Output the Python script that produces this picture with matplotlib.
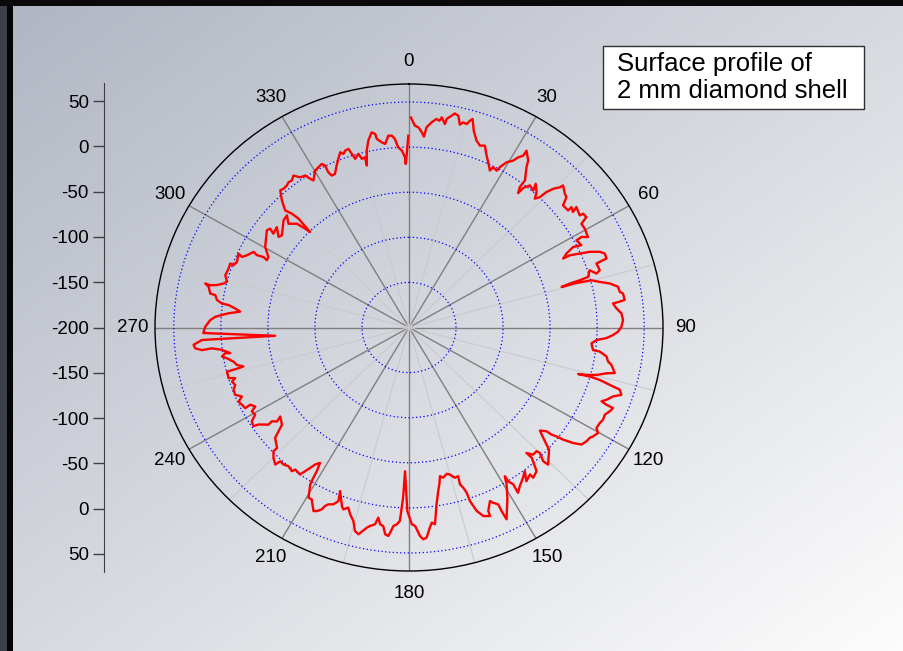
import numpy as np
import matplotlib
matplotlib.use("Agg")
import matplotlib.pyplot as plt
from matplotlib.patches import Rectangle

plt.rcParams['font.family'] = ['Liberation Sans', 'DejaVu Sans']

# surface profile: angle (deg, clockwise from top) and radius value
angle_deg = [
    0.5, 1.6, 2.6, 3.6, 4.3, 4.8, 6.0, 7.2, 8.0, 8.5, 9.6, 9.8, 10.9, 11.6, 12.6, 13.5, 14.2, 15.2, 15.8, 16.3,
    17.5, 19.1, 20.5, 21.8, 23.4, 24.7, 26.3, 26.7, 28.2, 28.5, 29.5, 30.9, 31.6, 32.5, 32.5, 34.4, 35.1, 37.1,
    37.1, 37.9, 38.1, 39.2, 41.0, 40.2, 42.1, 43.1, 43.9, 44.2, 44.9, 45.9, 46.1, 48.2, 49.2, 50.4, 52.5, 52.3,
    53.7, 53.1, 55.6, 55.7, 57.0, 57.9, 59.6, 62.2, 61.3, 61.5, 63.5, 62.9, 63.9, 65.0, 64.9, 65.7, 66.4, 67.5,
    68.5, 70.0, 70.1, 70.4, 72.6, 73.3, 71.7, 73.6, 73.9, 74.1, 74.5, 74.5, 74.9, 76.0, 77.1, 78.5, 80.0, 80.6,
    82.4, 82.7, 83.0, 84.5, 86.0, 87.9, 89.8, 91.2, 92.2, 93.2, 94.0, 95.2, 97.3, 97.5, 98.7, 100.1, 100.9,
    103.0, 103.6, 104.8, 105.6, 106.0, 105.8, 106.0, 106.6, 107.1, 108.3, 109.4, 110.9, 111.8, 112.2, 112.4,
    113.5, 114.9, 116.4, 117.6, 119.2, 120.2, 121.7, 122.5, 123.8, 125.3, 126.3, 127.2, 127.6, 128.1, 128.2,
    129.4, 130.6, 131.6, 132.3, 135.8, 136.1, 135.0, 135.3, 136.9, 138.1, 137.9, 139.6, 141.6, 141.7, 143.8,
    142.3, 144.0, 146.2, 147.7, 147.5, 148.3, 148.3, 149.2, 151.0, 154.0, 154.2, 154.2, 155.3, 155.9, 157.5,
    157.6, 159.3, 160.5, 161.4, 161.5, 162.0, 162.7, 162.4, 163.7, 165.1, 166.1, 167.7, 168.7, 169.5, 170.3,
    171.5, 172.8, 173.6, 174.3, 175.4, 176.3, 177.1, 178.3, 179.2, 180.5, 181.5, 181.9, 182.6, 183.4, 184.3,
    185.4, 186.3, 187.1, 188.0, 188.8, 189.4, 190.7, 191.4, 193.2, 194.3, 195.4, 196.8, 197.9, 199.1, 199.8,
    202.0, 201.3, 202.3, 203.6, 204.3, 204.7, 205.7, 206.5, 208.5, 209.5, 211.1, 211.4, 211.6, 212.2, 213.3,
    214.0, 214.7, 215.4, 217.5, 218.0, 219.8, 221.3, 222.7, 223.1, 224.9, 226.4, 226.4, 229.3, 230.3, 231.4,
    234.2, 233.4, 234.5, 234.2, 235.2, 236.1, 236.5, 238.1, 239.4, 240.9, 241.8, 243.1, 242.8, 244.3, 245.6,
    246.7, 248.0, 249.7, 251.0, 252.3, 253.1, 253.7, 255.8, 256.0, 256.2, 257.2, 258.5, 260.0, 260.8, 261.7,
    261.5, 262.9, 263.7, 263.5, 264.2, 265.2, 266.4, 266.3, 268.4, 270.2, 272.2, 273.3, 274.0, 274.7, 275.6,
    276.5, 277.4, 277.6, 278.5, 279.9, 280.1, 282.0, 282.7, 282.5, 283.0, 283.9, 284.7, 286.5, 288.8, 290.5,
    290.3, 291.7, 294.3, 293.8, 294.9, 296.9, 296.4, 296.8, 296.3, 297.6, 300.3, 305.5, 306.6, 305.8, 308.4,
    305.9, 307.1, 311.7, 313.8, 311.9, 314.0, 314.8, 315.2, 315.8, 315.4, 314.6, 316.2, 318.0, 319.1, 320.5,
    321.5, 322.6, 323.9, 325.2, 326.8, 327.5, 328.1, 330.2, 331.5, 332.9, 333.6, 333.5, 334.0, 335.2, 336.8,
    338.1, 339.4, 340.1, 340.9, 342.0, 342.5, 343.0, 344.4, 345.0, 346.1, 346.0, 347.1, 348.2, 349.6, 350.5,
    350.7, 352.0, 352.9, 354.1, 355.1, 355.9, 356.7, 357.8, 358.7, 358.9, 359.3, 359.8,
]
profile = [
    32.9, 23.9, 22.1, 16.8, 12.2, 22.7, 28.7, 33.1, 31.5, 35.5, 28.8, 34.6, 39.1, 42.3, 40.6, 31.3, 34.6, 33.8, 38.3, 40.9,
    28.9, 19.3, 15.3, 17.2, 7.7, 1.6, -5.9, -1.0, -2.7, 2.3, 10.5, 15.7, 21.5, 25.9, 32.5, 24.3, 17.2, 4.3,
    -4.8, -11.2, -3.3, 3.3, 1.2, 8.7, 2.3, -4.3, 0.6, 9.5, 17.1, 23.4, 27.2, 22.3, 21.1, 12.5, 13.2, 18.3,
    16.3, 22.5, 20.0, 24.0, 24.8, 16.4, 16.6, 15.1, 9.0, 2.6, 4.7, -4.1, -13.6, -19.2, -11.3, -0.8, 9.6, 19.4,
    23.7, 23.4, 19.4, 11.5, 12.5, 8.1, 2.3, -1.6, -11.1, -22.3, -31.7, -15.2, 0.9, 9.0, 18.9, 26.7, 27.5, 30.6,
    31.3, 25.8, 18.5, 21.5, 26.3, 27.7, 25.8, 22.2, 17.1, 10.2, -0.2, -5.3, -2.8, 4.5, 12.4, 14.9, 19.1,
    24.5, 15.9, 6.1, -4.2, -13.0, -0.3, 10.9, 22.6, 34.4, 37.8, 30.0, 24.7, 20.4, 26.7, 34.6,
    32.8, 29.5, 30.2, 28.8, 28.3, 32.5, 29.8, 27.8, 26.9, 24.6, 16.3, 5.6, -2.1, -7.5, -13.9,
    -19.9, -12.1, -4.5, 1.3, 12.1, 5.7, -3.4, -7.1, -6.9, -13.1, -5.4, 9.2, 12.6, 7.6, 11.3,
    1.3, 6.1, 11.7, 16.8, 6.2, 0.4, -6.2, 2.6, 15.7, 36.6, 26.0, 17.8, 13.9, 10.8, 20.2,
    26.1, 23.5, 15.8, 3.1, -6.8, -13.2, -17.8, -27.0, -26.4, -31.3, -32.9, -29.5, -31.9, -23.0, -15.9,
    -1.7, 19.9, 17.7, 23.0, 33.7, 35.3, 31.5, 20.2, 18.2, 3.5, -40.6, -11.2, 14.8, 18.6, 20.7,
    32.2, 30.7, 21.8, 20.4, 13.3, 21.2, 24.0, 26.4, 35.5, 32.8, 22.6, 16.4, 9.9, 13.4, 10.5,
    -4.4, 6.6, 11.9, 14.0, 17.2, 22.0, 25.9, 27.5, 16.8, 16.9, 3.3, -4.9, -13.0, -22.6, -18.2,
    -12.2, -6.2, -0.1, -1.4, 2.2, 0.2, 2.2, 1.8, 8.1, 4.1, -1.0, -6.3, -12.3, -19.8, -27.2,
    -31.3, -25.2, -20.9, -15.8, -11.5, -7.1, -1.7, -3.2, -10.0, -8.8, -14.6, -10.7, -4.3, -2.8, -1.1,
    -6.6, -0.8, -1.1, -4.7, -2.5, -7.0, -0.2, -0.4, -13.3, -18.8, -12.5, -9.7, -3.5, 1.4, -2.6,
    -7.9, 0.4, 10.7, 21.5, 28.4, 29.8, 20.5, -57.4, 18.8, 16.6, 11.5, 6.2, -0.7, -7.6, -19.7,
    -14.1, -6.6, 0.6, 6.4, 9.0, 14.6, 17.8, 22.0, 16.5, 9.4, 3.1, 0.0, 3.7, 2.6, 2.8,
    -1.1, -3.2, -1.1, -5.9, -10.0, -14.7, -19.5, -26.7, -31.5, -31.4, -22.9, -14.4, -16.2, -22.2, -20.8,
    -28.8, -30.6, -21.4, -20.3, -27.8, -34.3, -44.4, -50.8, -31.6, -22.7, -15.2, -4.8, 4.5, 3.6, 4.1,
    5.8, 5.1, 8.5, 2.8, 1.4, -4.5, -7.9, 0.6, 2.1, 3.7, 0.5, -7.7, -12.6, -12.4, -4.7,
    1.5, 7.6, 4.7, 7.5, 8.2, 1.9, -4.4, -0.1, -6.4, -5.6, -14.9, 1.2, 11.7, 20.0, 17.6,
    11.9, 7.3, 5.1, 13.8, 13.5, 9.6, 0.1, -3.7, -11.2, -18.6, -7.5, 12.7,
]

r_min, r_max = -200, 70
ring_values = [-150, -100, -50, 0, 50]
angle_major = list(range(0, 360, 30))
angle_minor = list(range(15, 360, 30))

# left scale: distance from the centre, labelled with the radius value
scale_pos = [-250, -200, -150, -100, -50, 0, 50, 100, 150, 200, 250]
scale_labels = ["50", "0", "-50", "-100", "-150", "-200", "-150", "-100", "-50", "0", "50"]

note = "Surface profile of\n2 mm diamond shell"

W, H = 904, 651
fig = plt.figure(figsize=(W / 100, H / 100), dpi=100)

# background gradient and frame
bg = fig.add_axes([0, 0, 1, 1], zorder=-10)
xs = np.linspace(0, 1, 300)
ys = np.linspace(0, 1, 220)
t = (xs[None, :] + ys[:, None]) / 2
c0 = np.array([0.69, 0.71, 0.76])
c1 = np.array([0.99, 0.99, 0.99])
grad = c0[None, None, :] + (c1 - c0)[None, None, :] * t[:, :, None]
bg.imshow(grad, extent=[0, 1, 0, 1], aspect='auto', interpolation='bilinear')
bg.set_xlim(0, 1)
bg.set_ylim(0, 1)
bg.axis('off')
bg.add_patch(Rectangle((0, 0), 7 / W, 1, color='#3c3f4c', lw=0))
bg.add_patch(Rectangle((7 / W, 0), 6 / W, 1, color='#050505', lw=0))
bg.add_patch(Rectangle((0, 1 - 6 / H), 1, 6 / H, color='#0a0a0a', lw=0))

# note box
bg.add_patch(Rectangle((603 / W, 1 - 109 / H), 261 / W, 63 / H, facecolor='white',
                       edgecolor='#303030', lw=1))
bg.text(617 / W, 1 - 77.5 / H, note, ha='left', va='center', fontsize=18.5,
        linespacing=1.12, color='black')

# polar plot
ax = fig.add_axes([155 / W, 80 / H, 508 / W, 487 / H], projection='polar')
ax.set_aspect('auto')
ax.patch.set_alpha(0)
ax.set_theta_zero_location('N')
ax.set_theta_direction(-1)
ax.set_rlim(r_min, r_max)
ax.set_rticks(ring_values)
ax.set_yticklabels([])
ax.yaxis.grid(True, color='blue', linestyle=(0, (1, 2)), lw=0.9)

ax.set_xticks(np.deg2rad(angle_major))
ax.set_xticklabels([str(a) for a in angle_major])
ax.set_xticks(np.deg2rad(angle_minor), minor=True)
ax.xaxis.grid(True, which='major', color='#7f7f7f', lw=1.0, ls='-')
ax.xaxis.grid(True, which='minor', color='#c9cace', lw=0.8, ls='-')
ax.tick_params(axis='x', which='major', direction='in', length=8, width=1.3,
               color='#333333', pad=9, labelsize=13.5)
ax.tick_params(axis='x', which='minor', direction='in', length=5, width=1, color='#222222')
ax.spines['polar'].set_color('black')
ax.spines['polar'].set_linewidth(1.0)

ax.plot(np.deg2rad(angle_deg), profile, color='red', lw=1.7, zorder=5)

# left vertical scale
lax = fig.add_axes([104 / W, 79 / H, 0.0001, 489 / H])
lax.patch.set_alpha(0)
lax.set_ylim(-270, 270)
lax.set_xticks([])
lax.set_yticks(scale_pos)
lax.set_yticklabels(scale_labels)
for side in ['top', 'right', 'bottom']:
    lax.spines[side].set_visible(False)
lax.spines['left'].set_color('#404040')
lax.tick_params(axis='y', direction='out', length=8, width=1, color='#404040',
                pad=3, labelsize=13.5)

fig.savefig("out.png", dpi=100)
